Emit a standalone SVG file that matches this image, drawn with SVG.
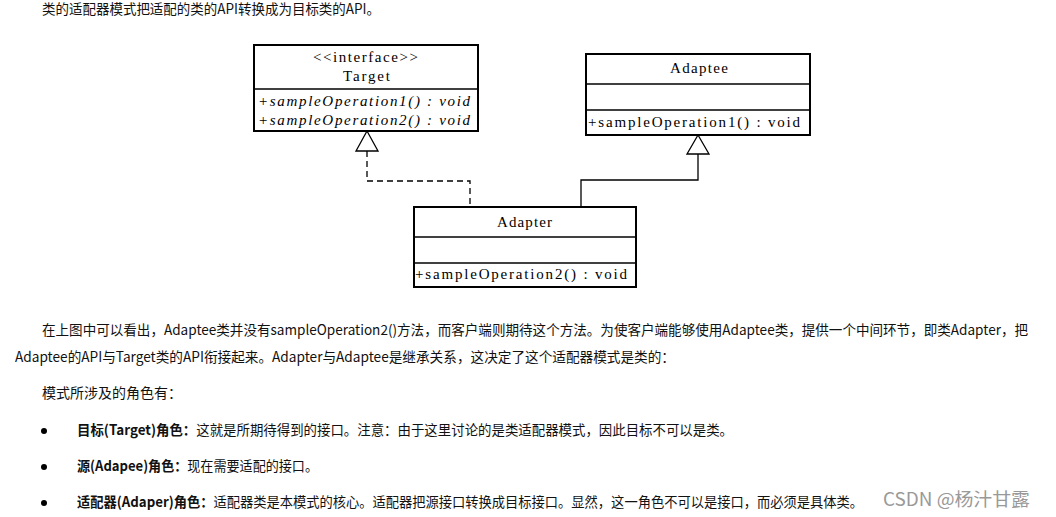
<svg xmlns="http://www.w3.org/2000/svg" width="1056" height="517" viewBox="0 0 1056 517">
<style>
.box{fill:#fff;stroke:#000;stroke-width:2}
.ln{fill:none;stroke:#000;stroke-width:1.3}
.uml{font-family:"Liberation Serif",serif;font-size:15px;fill:#000}
.it{font-style:italic}
.t{font-family:"Noto Sans CJK SC","Noto Sans",sans-serif;font-size:14px;fill:#111}
.b{font-weight:bold}
.wm{font-family:"Noto Sans CJK SC","Noto Sans",sans-serif;font-size:18px;fill:#999}
</style>
<rect width="1056" height="517" fill="#fff"/>
<text class="t" x="42" y="14" textLength="338" lengthAdjust="spacingAndGlyphs">类的适配器模式把适配的类的API转换成为目标类的API。</text>

<g id="connectors">
<path class="ln" d="M367,151 V181 H470 V207" stroke-dasharray="6,4"/>
<polygon points="367,131 356,151 378,151" fill="#fff" stroke="#000" stroke-width="1.3"/>
<path class="ln" d="M698,154 V180 H581 V207"/>
<polygon points="698,135 687,154 709,154" fill="#fff" stroke="#000" stroke-width="1.3"/>
</g>

<g id="target">
<rect class="box" x="254" y="45" width="224" height="86"/>
<line class="ln" x1="254" y1="89" x2="478" y2="89" stroke-width="2"/>
<text class="uml" x="313" y="62" textLength="105" fill="#444">&lt;&lt;interface&gt;&gt;</text>
<text class="uml" x="343" y="81" textLength="47">Target</text>
<text class="uml it" x="258" y="106" textLength="212">+sampleOperation1() : void</text>
<text class="uml it" x="258" y="125" textLength="212">+sampleOperation2() : void</text>
</g>

<g id="adaptee">
<rect class="box" x="586" y="54" width="224" height="81"/>
<line class="ln" x1="586" y1="84" x2="810" y2="84" stroke-width="2"/>
<line class="ln" x1="586" y1="110" x2="810" y2="110" stroke-width="2"/>
<text class="uml" x="670" y="73" textLength="58">Adaptee</text>
<text class="uml" x="588" y="127" textLength="212">+sampleOperation1() : void</text>
</g>

<g id="adapter">
<rect class="box" x="414" y="207" width="222" height="80"/>
<line class="ln" x1="414" y1="237" x2="636" y2="237" stroke-width="2"/>
<line class="ln" x1="414" y1="263" x2="636" y2="263" stroke-width="2"/>
<text class="uml" x="497" y="227" textLength="55">Adapter</text>
<text class="uml" x="415" y="279" textLength="212">+sampleOperation2() : void</text>
</g>

<text class="t" x="42" y="335" textLength="986" lengthAdjust="spacingAndGlyphs">在上图中可以看出，Adaptee类并没有sampleOperation2()方法，而客户端则期待这个方法。为使客户端能够使用Adaptee类，提供一个中间环节，即类Adapter，把</text>
<text class="t" x="15" y="362" textLength="660" lengthAdjust="spacingAndGlyphs">Adaptee的API与Target类的API衔接起来。Adapter与Adaptee是继承关系，这决定了这个适配器模式是类的：</text>
<text class="t" x="42" y="398">模式所涉及的角色有：</text>

<circle cx="44" cy="431" r="3" fill="#000"/>
<text class="t" x="77" y="435" textLength="656" lengthAdjust="spacingAndGlyphs"><tspan class="b">目标(Target)角色：</tspan>这就是所期待得到的接口。注意：由于这里讨论的是类适配器模式，因此目标不可以是类。</text>
<circle cx="44" cy="467" r="3" fill="#000"/>
<text class="t" x="77" y="471" textLength="241" lengthAdjust="spacingAndGlyphs"><tspan class="b">源(Adapee)角色：</tspan>现在需要适配的接口。</text>
<circle cx="44" cy="503" r="3" fill="#000"/>
<text class="t" x="77" y="507" textLength="786" lengthAdjust="spacingAndGlyphs"><tspan class="b">适配器(Adaper)角色：</tspan>适配器类是本模式的核心。适配器把源接口转换成目标接口。显然，这一角色不可以是接口，而必须是具体类。</text>

<text class="wm" x="883" y="506" textLength="147" lengthAdjust="spacingAndGlyphs">CSDN @杨汁甘露</text>
</svg>
